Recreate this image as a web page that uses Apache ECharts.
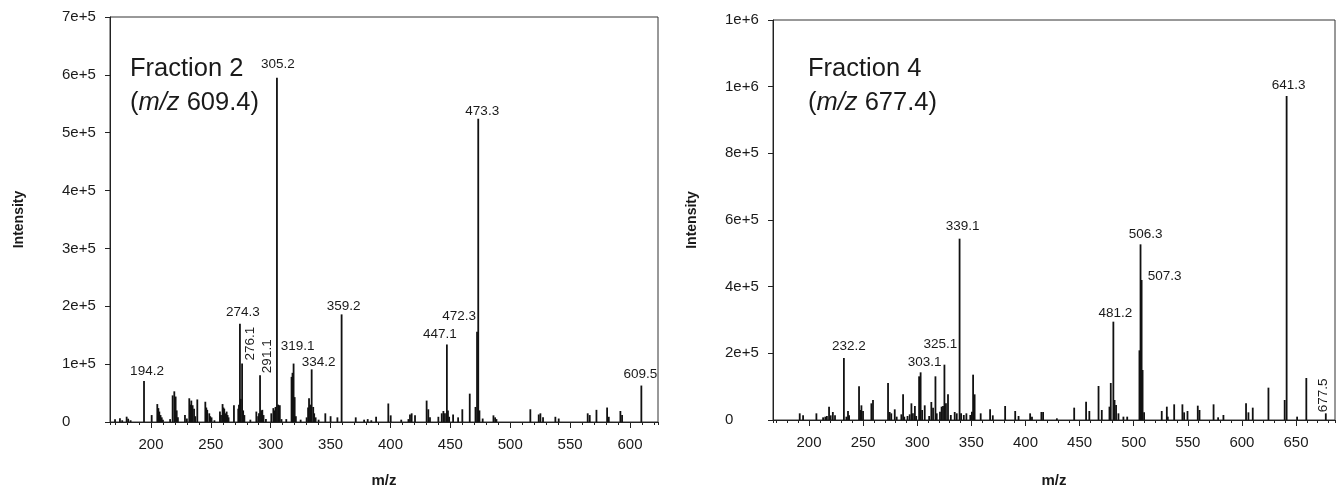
<!DOCTYPE html>
<html><head><meta charset="utf-8">
<style>html,body{margin:0;padding:0;background:#fff}#c{width:1342px;height:493px}</style>
<script src="https://cdn.jsdelivr.net/npm/echarts@6/dist/echarts.min.js"></script>
</head><body><div id="c"></div>
<script>
// ---------- Fraction 2 (precursor m/z 609.4) ----------
const f2Mz = [170,174.1,176,179.7,181,183,194.2,200.6,205.3,206.2,207,208,209,210,216,218.1,219.5,220.6,221.5,222.5,228.4,230,232,233.2,233.7,234.8,236,237,238.7,245.4,246.2,247,248.7,249.5,250.6,253,257.6,258.5,259.8,260.5,261.2,262.3,263.2,264,264.8,269.3,272.9,273.5,274.3,275,276.1,277,278,283,288,289.5,290.2,291.1,292,293,294,296,300.5,302.2,303,304,305.2,306.2,307.6,309,313,317.4,318.2,319.1,320,321,325,330,331.2,332,333,334.2,335.5,336.3,337.5,340,345.6,350,355.7,359.2,371,378,381,384,388,398.2,400.2,409,415,416.3,417.7,420.5,430.2,431.6,433,440,442.8,444.2,445.5,447.1,448,449,452.3,456.5,460,466.2,471,472.3,473.3,474.3,477,486,487.4,488.5,516.8,523.8,525.2,527.4,537.7,540.5,564.7,566.4,572,580.9,582.3,592,593.4,609.5];
const f2Int = [4600,6300,3000,9200,5700,3000,71000,12000,31000,24000,18000,12000,8000,4000,5000,46000,53000,44000,20000,8000,12000,6000,41000,30000,37000,29000,23000,10000,39000,35000,25000,21000,15000,10000,8000,3000,18000,12000,31000,25000,23000,15000,18000,12000,8000,29000,23000,30000,170000,40000,101000,20000,12000,4000,18000,10000,15000,81000,20000,21000,12000,5000,15000,24000,20000,26000,595000,30000,29000,5000,5000,78000,85000,101000,43000,10000,4000,8000,25000,41000,30000,91000,26000,15000,8000,4000,15000,10000,8000,186000,8000,4000,5000,3000,9000,32000,11500,4000,5000,13000,15000,11500,37000,22000,8000,9000,15000,19000,15000,134000,20000,9000,13000,8000,22000,49000,26000,156000,524000,20000,6000,11500,8000,5000,22000,13000,15000,8000,9000,6000,15000,12000,21000,25000,9000,19000,12000,63000];
const f2Labels = ['194.2','274.3','276.1','291.1','305.2','319.1','334.2','359.2','447.1','472.3','473.3','609.5'];
const f2YTickLabels = ['0','1e+5','2e+5','3e+5','4e+5','5e+5','6e+5','7e+5'];
const f2Title = 'Fraction 2';
const f2Precursor = '609.4';

// ---------- Fraction 4 (precursor m/z 677.4) ----------
const f4Mz = [191.4,194.5,206.8,213,215,216.5,218.5,220,222,224,232.2,234.5,236,237,246.2,247.5,248.4,249.9,257.6,259.1,273,274.5,276,279.2,281,285.3,286.9,288,291,293,294.6,296,297.8,299,301.7,303.1,304.5,306.9,311,313,314.6,316.8,318,321,322.5,323.8,325.1,326.5,328.4,331,334.6,336.5,339.1,340.5,343,345.4,349,350.5,351.6,353,358.6,367.3,369.8,381.2,390.5,393.6,404.3,406,414.7,416.3,429,445,456,459,467.5,470.5,477.6,478.8,481.2,482.3,483.7,485.9,490.5,494,505.3,506.3,507.3,508.2,509.6,525.9,530.6,531.5,537.4,545,546.6,549.7,559.2,560.8,573.8,578,582.9,603.8,606,610,624.5,639.5,641.3,651,659.5,677.5];
const f4Int = [20000,14000,20000,8000,10000,12000,40000,14000,24000,14000,186000,10000,27000,14000,101000,30000,44000,27000,50000,60000,111000,24000,20000,32000,10000,17000,77000,10000,12000,17000,50000,20000,42000,12000,131000,143000,30000,44000,12000,54000,37000,131000,20000,25000,40000,42000,166000,50000,77000,15000,24000,20000,544000,20000,15000,20000,15000,25000,136000,77000,20000,32000,14000,42000,27000,12000,20000,10000,24000,24000,5000,37000,55000,27000,102000,30000,40000,111000,295000,60000,45000,20000,10000,10000,209000,527000,420000,150000,23000,27000,40000,10000,47000,47000,23000,27000,43000,30000,47000,8000,15000,50000,23000,37000,97000,60000,972000,10000,126000,20000];
const f4Labels = ['232.2','303.1','325.1','339.1','481.2','506.3','507.3','641.3','677.5'];
const f4YTickLabels = ['0','2e+5','4e+5','6e+5','8e+5','1e+6','1e+6'];
const f4Title = 'Fraction 4';
const f4Precursor = '677.4';

// ---------- label placement (style only) ----------
const labelPlace = {
  f2: {'194.2':{dx:3,d:3},'274.3':{dx:3,d:4},'276.1':{dx:8,d:3,rot:true},'291.1':{dx:7,d:2,rot:true},
       '305.2':{dx:1,d:6},'319.1':{dx:4,d:10},'334.2':{dx:7,d:0},'359.2':{dx:2,d:1},'447.1':{dx:-7,d:3},
       '472.3':{dx:-18,d:8},'473.3':{dx:4,d:1},'609.5':{dx:-1,d:4}},
  f4: {'232.2':{dx:5,d:5},'303.1':{dx:4,d:3},'325.1':{dx:-4,d:13},'339.1':{dx:3,d:5},'481.2':{dx:2,d:1},
       '506.3':{dx:5,d:3},'507.3':{dx:23,d:-3},'641.3':{dx:2,d:4},'677.5':{dx:-3,d:1,rot:true}}
};

const FONT = '"Liberation Sans", Arial, sans-serif';
const INK = '#1a1a1a';

function buildData(mz, inten, labels, place) {
  return mz.map((m, i) => {
    const txt = m.toFixed(1);
    const item = { value: [m, inten[i]] };
    if (labels.includes(txt)) {
      const p = place[txt] || {dx:0,d:3};
      // rotated labels: offset is expressed in the rotated frame, so screen-x shift goes in offset[1]
      item.label = p.rot ? {
        show: true, formatter: txt, position: 'top', distance: p.d, rotate: 90,
        align: 'left', verticalAlign: 'middle', offset: [0, p.dx],
        fontSize: 13.5, fontFamily: FONT, color: INK
      } : {
        show: true, formatter: txt, position: 'top', distance: p.d, offset: [p.dx, 0],
        fontSize: 13.5, fontFamily: FONT, color: INK
      };
    }
    return item;
  });
}

const grids = [
  {left:110, top:17, width:548, height:405, show:true, borderColor:'#333', borderWidth:1},
  {left:773, top:20, width:562, height:404, show:true, borderColor:'#333', borderWidth:1}
];
const xRanges = [[165.8, 623.4], [166.7, 686.0]];
const majorSplit = [9, 10];
const minorSplit = [45, 50];
const xNameGap = [51, 53];
const yNameGap = [84, 74];

const xAxes = [];
const yAxes = [];
[0,1].forEach(g => {
  xAxes.push({
    type:'value', gridIndex:g, min:xRanges[g][0], max:xRanges[g][1], splitNumber:majorSplit[g],
    name:'m/z', nameLocation:'middle', nameGap:xNameGap[g],
    nameTextStyle:{fontSize:15, fontWeight:'bold', fontFamily:FONT, color:INK},
    axisLine:{show:true, onZero:false, lineStyle:{color:'#222', width:1}},
    axisTick:{show:true, length:6, inside:false, lineStyle:{color:'#222'}},
    axisLabel:{show:true, margin:15, fontSize:15, fontFamily:FONT, color:INK, showMinLabel:false, showMaxLabel:false},
    splitLine:{show:false}
  });
  xAxes.push({
    type:'value', gridIndex:g, min:xRanges[g][0], max:xRanges[g][1], splitNumber:minorSplit[g],
    position:'bottom',
    axisLine:{show:false}, axisTick:{show:true, length:3, lineStyle:{color:'#222'}},
    axisLabel:{show:false}, splitLine:{show:false}
  });
});
yAxes.push({
  type:'value', gridIndex:0, min:0, max:700000, interval:100000,
  name:'Intensity', nameLocation:'middle', nameGap:yNameGap[0],
  nameTextStyle:{fontSize:14, fontWeight:'bold', fontFamily:FONT, color:INK},
  axisLine:{show:true, lineStyle:{color:'#222'}},
  axisTick:{show:true, length:5, lineStyle:{color:'#222'}},
  axisLabel:{align:'left', margin:48, fontSize:15, fontFamily:FONT, color:INK,
    formatter:v => f2YTickLabels[Math.round(v/100000)]},
  splitLine:{show:false}
});
yAxes.push({
  type:'value', gridIndex:1, min:0, max:1200000, interval:200000,
  name:'Intensity', nameLocation:'middle', nameGap:yNameGap[1],
  nameTextStyle:{fontSize:14, fontWeight:'bold', fontFamily:FONT, color:INK},
  axisLine:{show:true, lineStyle:{color:'#222'}},
  axisTick:{show:true, length:5, lineStyle:{color:'#222'}},
  axisLabel:{align:'left', margin:48, fontSize:15, fontFamily:FONT, color:INK,
    formatter:v => f4YTickLabels[Math.round(v/200000)]},
  splitLine:{show:false}
});

function titleOf(name, prec, left) {
  return {
    left:left, top:52, padding:0,
    text: name + '\n({i|m/z} ' + prec + ')',
    textStyle:{fontSize:25.5, fontWeight:'normal', fontFamily:FONT, color:INK, lineHeight:34,
      rich:{i:{fontStyle:'italic', fontSize:25.5, fontFamily:FONT, color:INK, lineHeight:34}}}
  };
}

const chart = echarts.init(document.getElementById('c'), null, {renderer:'canvas'});
chart.setOption({
  animation:false,
  backgroundColor:'#fff',
  title:[titleOf(f2Title, f2Precursor, 130), titleOf(f4Title, f4Precursor, 808)],
  grid:grids,
  xAxis:xAxes,
  yAxis:yAxes,
  series:[
    {type:'bar', xAxisIndex:0, yAxisIndex:0, barWidth:1.8, itemStyle:{color:'#111'},
     data:buildData(f2Mz, f2Int, f2Labels, labelPlace.f2)},
    {type:'bar', xAxisIndex:2, yAxisIndex:1, barWidth:1.8, itemStyle:{color:'#111'},
     data:buildData(f4Mz, f4Int, f4Labels, labelPlace.f4)}
  ]
});
</script></body></html>
